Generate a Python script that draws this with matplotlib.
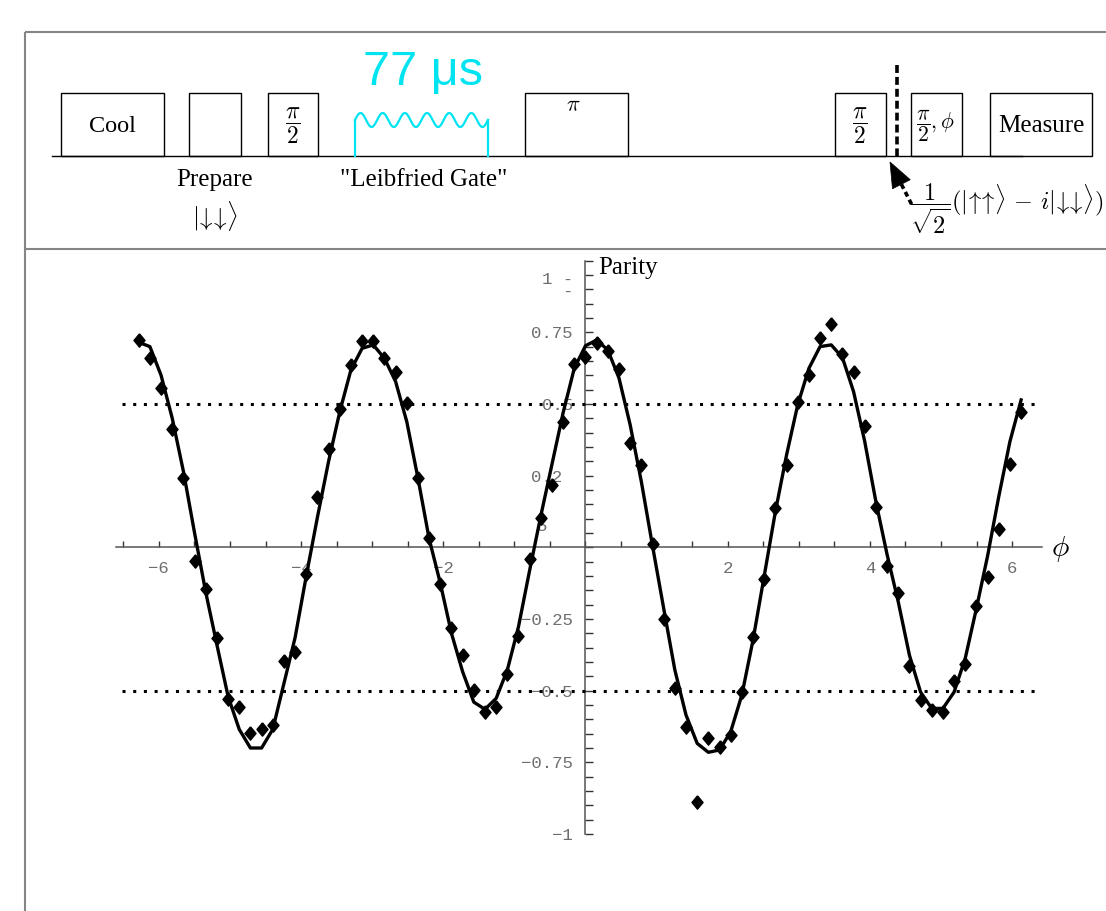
import numpy as np
import matplotlib
matplotlib.use('Agg')
import matplotlib.pyplot as plt
from matplotlib.patches import Rectangle, Polygon

plt.rcParams['mathtext.fontset'] = 'cm'
plt.rcParams['font.family'] = ['Liberation Serif', 'DejaVu Serif']

# phase scan: -2pi .. 2pi in steps of pi/20
phi = -2 * np.pi + np.pi / 20 * np.arange(80)

parity = [
    0.723, 0.659, 0.555, 0.412, 0.241, -0.048, -0.145, -0.315, -0.529, -0.558,
    -0.647, -0.633, -0.620, -0.395, -0.366, -0.094, 0.177, 0.342, 0.481, 0.636,
    0.720, 0.720, 0.662, 0.613, 0.505, 0.243, 0.034, -0.129, -0.280, -0.376,
    -0.498, -0.573, -0.556, -0.442, -0.309, -0.042, 0.101, 0.217, 0.438, 0.640,
    0.665, 0.712, 0.685, 0.622, 0.363, 0.287, 0.010, -0.250, -0.492, -0.626,
    -0.887, -0.666, -0.698, -0.654, -0.503, -0.312, -0.112, 0.136, 0.287, 0.506,
    0.601, 0.731, 0.778, 0.674, 0.610, 0.423, 0.142, -0.064, -0.160, -0.413,
    -0.533, -0.567, -0.573, -0.465, -0.408, -0.205, -0.105, 0.063, 0.291, 0.473,
]

parity_fit = [
    0.715, 0.700, 0.600, 0.450, 0.265, 0.050, -0.157, -0.340, -0.520, -0.635,
    -0.700, -0.700, -0.635, -0.475, -0.315, -0.100, 0.105, 0.300, 0.473, 0.619,
    0.694, 0.706, 0.659, 0.578, 0.438, 0.241, 0.030, -0.125, -0.300, -0.434,
    -0.540, -0.565, -0.527, -0.428, -0.277, -0.080, 0.110, 0.290, 0.470, 0.625,
    0.703, 0.723, 0.688, 0.590, 0.427, 0.229, 0.005, -0.213, -0.428, -0.585,
    -0.684, -0.715, -0.707, -0.643, -0.515, -0.323, -0.100, 0.124, 0.322, 0.497,
    0.624, 0.700, 0.706, 0.662, 0.543, 0.369, 0.159, -0.025, -0.190, -0.376,
    -0.505, -0.562, -0.562, -0.505, -0.387, -0.213, -0.030, 0.177, 0.369, 0.514,
]

x_ticks = [-6, -4, -2, 2, 4, 6]
x_ticklabels = ['\u22126', '\u22124', '\u22122', '2', '4', '6']
y_ticks = [-1, -0.75, -0.5, -0.25, 0.25, 0.5, 0.75, 1]
y_ticklabels = ['\u22121', '\u22120.75', '\u22120.5', '\u22120.25', '0.2 ', '0.5', '0.75', '']

cyan = '#00e4f2'
grey = '#6e6e6e'

fig = plt.figure(figsize=(11.06, 9.11), dpi=100)

# ---- pulse sequence drawn in pixel coordinates ----
d = fig.add_axes([0, 0, 1, 1])
d.set_xlim(0, 1106)
d.set_ylim(911, 0)
d.axis('off')

frame = dict(color='#858585', lw=1.5, solid_capstyle='butt')
d.plot([25, 1106], [32, 32], **frame)
d.plot([25, 25], [32, 911], **frame)
d.plot([25, 1106], [249, 249], **frame)

d.plot([52, 1022], [156, 156], color='k', lw=1.0)
for x0, x1 in [(61, 164), (189, 241), (268, 318), (525, 628),
               (835, 886), (911, 962), (990, 1092)]:
    d.add_patch(Rectangle((x0, 93), x1 - x0, 63, fill=False, ec='k', lw=1.0))

d.text(112.5, 126, 'Cool', fontsize=17.5, ha='center', va='center')
d.text(1041, 126, 'Measure', fontsize=18, ha='center', va='center')
d.text(293, 126, r'$\dfrac{\pi}{2}$', fontsize=17, ha='center', va='center')
d.text(860, 126, r'$\dfrac{\pi}{2}$', fontsize=17, ha='center', va='center')
d.text(936, 126, r'$\dfrac{\pi}{2},\phi$', fontsize=15.5, ha='center', va='center')
d.text(573, 107, r'$\pi$', fontsize=16, ha='center', va='center')

d.text(215, 180, 'Prepare', fontsize=18, ha='center', va='center')
d.text(215, 216, r'$|\!\downarrow\!\!\downarrow\!\rangle$', fontsize=18,
       ha='center', va='center')
d.text(424, 180, '"Leibfried Gate"', fontsize=18, ha='center', va='center')

# gate pulse: two legs with a wiggle on top
wx = np.linspace(355, 488, 400)
wy = 120 - 7 * np.sin(2 * np.pi * 6 * (wx - 355) / 133)
d.plot(wx, wy, color=cyan, lw=1.6)
d.plot([355, 355], [156, 120], color=cyan, lw=1.6)
d.plot([488, 488], [120, 156], color=cyan, lw=1.6)
d.text(423, 85, '77 \u03bcs', fontsize=35, color=cyan, family='Liberation Sans',
       ha='center', va='baseline')

d.plot([897, 897], [65, 157], color='k', lw=2.6, dashes=(2.2, 1.1))

# arrow: dashed shaft, solid head
tip = np.array([890.0, 162.0])
tail = np.array([913.0, 207.0])
u = (tip - tail) / np.hypot(*(tip - tail))
n = np.array([-u[1], u[0]])
base = tip - 25 * u
d.add_patch(Polygon([tip, base + 10 * n, base - 10 * n], closed=True,
                    fc='k', ec='k', lw=0.5))
d.plot([base[0], tail[0]], [base[1], tail[1]], color='k', lw=2.6,
       dashes=(1.4, 1.0))
d.text(910, 209, r'$\dfrac{1}{\sqrt{2}}(|\!\uparrow\!\!\uparrow\!\rangle\,-\,i|\!\downarrow\!\!\downarrow\!\rangle)$',
       fontsize=17.5, ha='left', va='center')

# ---- parity vs phase ----
ax = fig.add_axes([116.2 / 1106, 77 / 911, 925.8 / 1106, 573.4 / 911])
ax.patch.set_alpha(0)
ax.set_xlim(-6.6, 6.42)
ax.set_ylim(-1, 1)
for side in ['top', 'right']:
    ax.spines[side].set_visible(False)
for side in ['left', 'bottom']:
    ax.spines[side].set_position(('data', 0))
    ax.spines[side].set_color('#555555')
    ax.spines[side].set_linewidth(1.1)

ax.set_xticks(x_ticks, labels=x_ticklabels)
ax.set_xticks(np.arange(-6.5, 6.01, 0.5), minor=True)
ax.set_yticks(y_ticks, labels=y_ticklabels)
ax.set_yticks(np.arange(-1, 1.001, 0.05), minor=True)
ax.tick_params(axis='x', which='both', direction='in', length=4, width=1,
               color='#333333', labelsize=12.5, labelcolor=grey, pad=10,
               labelfontfamily='Liberation Mono')
ax.tick_params(axis='y', which='both', direction='in', length=5.5, width=1,
               color='#333333', labelsize=12.5, labelcolor=grey, pad=9,
               labelfontfamily='Liberation Mono')

mono = dict(family='Liberation Mono', fontsize=12.5, color=grey, va='center',
            textcoords='offset points')
ax.annotate('1 -', xy=(0, 0.935), xytext=(-9, 0), ha='right', **mono)
ax.annotate('-', xy=(0, 0.888), xytext=(-9, 0), ha='right', **mono)
ax.annotate('5', xy=(0, 0.072), xytext=(-31, 0), ha='center', **mono)

ax.hlines([0.5, -0.5], -6.52, 6.39, colors='k', lw=2.2,
          linestyles=[(0, (1, 2.5))], zorder=3)

ax.plot(phi, parity_fit, color='k', lw=2.4, zorder=3)
diamond = [(0, 1), (0.83, 0), (0, -1), (-0.83, 0), (0, 1)]
ax.plot(phi, parity, linestyle='none', marker=diamond, markersize=9.6,
        color='k', zorder=4)

d.text(598, 268, 'Parity', fontsize=18, ha='left', va='center')
d.text(1060, 549, r'$\phi$', fontsize=21, ha='center', va='center')

fig.savefig('out.png', dpi=100)
